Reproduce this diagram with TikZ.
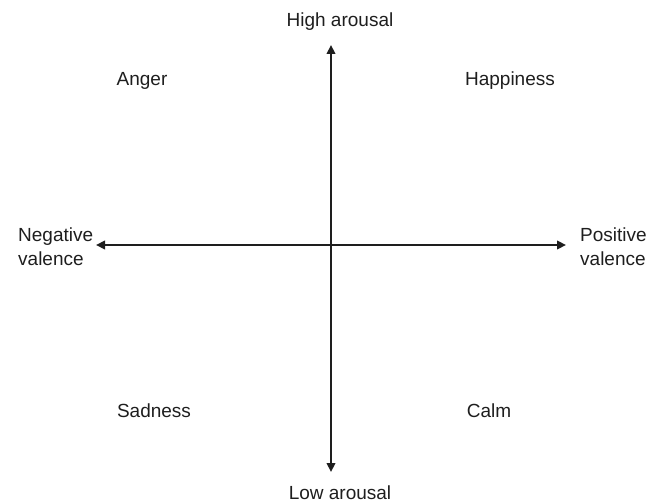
\documentclass[tikz,border=0pt]{standalone}
\usepackage{fontspec}
\setmainfont{Liberation Sans}
\usetikzlibrary{arrows.meta}
\definecolor{ink}{HTML}{1E1E1E}
\begin{document}
\begin{tikzpicture}[x=1bp,y=-1bp,
  lbl/.style={inner sep=0pt, text=ink, font=\fontsize{19bp}{23bp}\selectfont},
  axis/.style={draw=ink, line width=2.3bp, {Triangle[length=9bp,width=8.5bp]}-{Triangle[length=9bp,width=8.5bp]}}]
\useasboundingbox (0,0) rectangle (662,504);
% axis end points
\coordinate (top) at (331,45);
\coordinate (bottom) at (331,472);
\coordinate (left) at (96,245);
\coordinate (right) at (566,245);
% labels
\node[lbl, anchor=base] (high) at (340,27) {High arousal};
\node[lbl, anchor=base] (low) at (340,499) {Low arousal};
\node[lbl, anchor=base west, align=left] (neg) at (18,265) {Negative\\valence};
\node[lbl, anchor=base west, align=left] (pos) at (580,265) {Positive\\valence};
\node[lbl, anchor=base] (anger) at (142,86) {Anger};
\node[lbl, anchor=base] (happy) at (510,86) {Happiness};
\node[lbl, anchor=base] (sad) at (154,417) {Sadness};
\node[lbl, anchor=base] (calm) at (489,417) {Calm};
% axes
\draw[axis] (bottom) -- (top);
\draw[axis] (left) -- (right);
\end{tikzpicture}
\end{document}
